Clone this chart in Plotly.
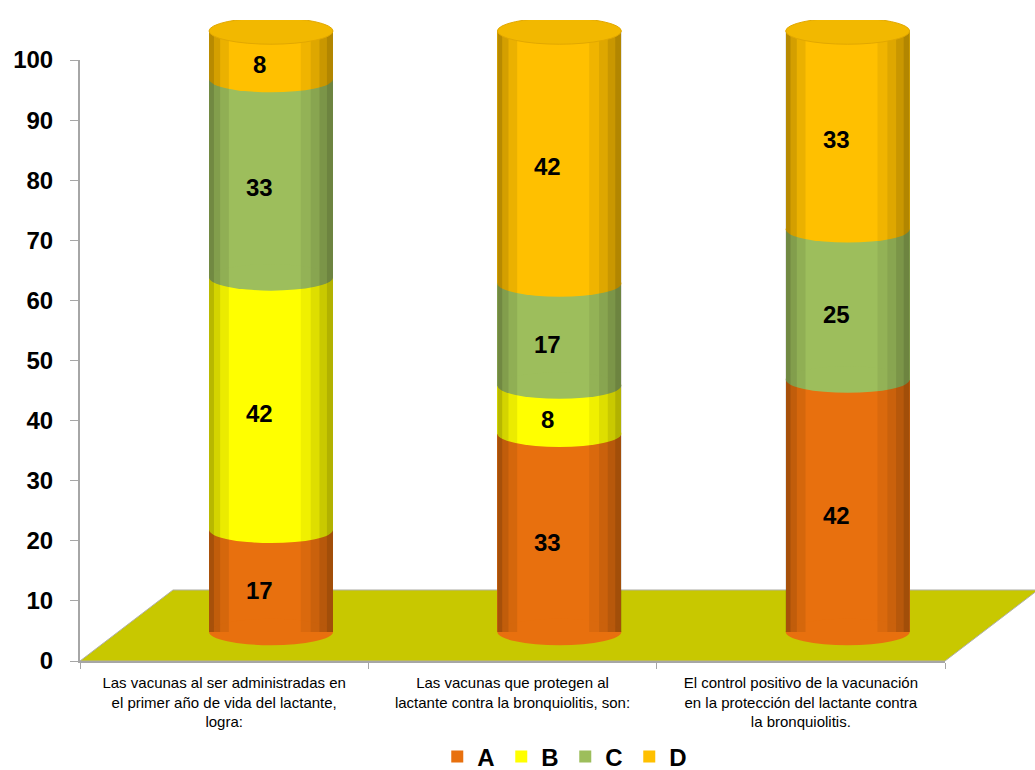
import plotly.graph_objects as go

# ---- data ----
categories = [
    "Las vacunas al ser administradas en<br>el primer año de vida del lactante,<br>logra:",
    "Las vacunas que protegen al<br>lactante contra la bronquiolitis, son:",
    "El control positivo de la vacunación<br>en la protección del lactante contra<br>la bronquiolitis.",
]
series_names = ["A", "B", "C", "D"]
values_A = [17, 33, 42]
values_B = [42, 8, 0]
values_C = [33, 17, 25]
values_D = [8, 42, 33]
y_ticks = [0, 10, 20, 30, 40, 50, 60, 70, 80, 90, 100]

# ---- style ----
colors = ["#E8700E", "#FFFF00", "#9DBE5C", "#FFC000"]
cap_color = "#F2B800"
FONT = "Liberation Sans, Arial, sans-serif"
BAR_W = 0.43
ELL_H = 2.2  # half-height of cylinder ellipses in data units

series_values = [values_A, values_B, values_C, values_D]
idx = list(range(len(categories)))

fig = go.Figure()

# invisible trace to anchor the primary axes
fig.add_trace(go.Scatter(x=idx, y=[0] * len(idx), mode="markers",
                         marker=dict(opacity=0), showlegend=False,
                         hoverinfo="skip", xaxis="x", yaxis="y"))

for name, vals, col in zip(series_names, series_values, colors):
    fig.add_trace(go.Bar(
        x=idx, y=vals, name=name, width=BAR_W,
        marker=dict(color=col, line=dict(width=0)),
        xaxis="x2", yaxis="y2", hoverinfo="name+y",
    ))

shapes = []
# floor (perspective plane)
shapes.append(dict(
    type="path", xref="paper", yref="paper", layer="below",
    path="M 0,0 L 1,0 L 1.1075,0.1108 L 0.1075,0.1108 Z",
    fillcolor="#C8C800", line=dict(color="#B0B0A8", width=1),
))

shade = [(0.00, 0.04, 0.28), (0.04, 0.09, 0.17), (0.09, 0.16, 0.08),
         (0.74, 0.82, 0.06), (0.82, 0.89, 0.13), (0.89, 0.95, 0.21),
         (0.95, 1.00, 0.30)]

annotations = []
for i in idx:
    x0, x1 = i - BAR_W / 2, i + BAR_W / 2
    # bottom rounded edge
    shapes.append(dict(type="circle", xref="x2", yref="y2", layer="above",
                       x0=x0, x1=x1, y0=-ELL_H, y1=ELL_H,
                       fillcolor=colors[0], line=dict(width=0)))
    cum = 0
    for j, vals in enumerate(series_values):
        v = vals[i]
        if v <= 0:
            continue
        if cum > 0:
            shapes.append(dict(type="circle", xref="x2", yref="y2", layer="above",
                               x0=x0, x1=x1, y0=cum - ELL_H, y1=cum + ELL_H,
                               fillcolor=colors[j], line=dict(width=0)))
        annotations.append(dict(
            x=i - 0.04, y=cum + v / 2 - 1.6, xref="x2", yref="y2", text=str(v),
            showarrow=False, font=dict(family=FONT, size=24, color="#000000",
                                       weight="bold")))
        cum += v
    # cylinder shading strips
    w = BAR_W
    for a, b, op in shade:
        shapes.append(dict(type="rect", xref="x2", yref="y2", layer="above",
                           x0=x0 + a * w, x1=x0 + b * w, y0=0, y1=cum,
                           fillcolor="black", opacity=op, line=dict(width=0)))
    # top cap
    shapes.append(dict(type="circle", xref="x2", yref="y2", layer="above",
                       x0=x0, x1=x1, y0=cum - ELL_H, y1=cum + ELL_H,
                       fillcolor=cap_color, line=dict(color="#E2A800", width=1)))

PLOT_H = 770 - 20 - 109
y_top = 601 / PLOT_H
zero_px = 29
px_per = 6.01

fig.update_layout(
    width=1035, height=770,
    margin=dict(l=80, r=90, t=20, b=109, autoexpand=False),
    paper_bgcolor="white", plot_bgcolor="rgba(0,0,0,0)",
    barmode="stack", bargap=0,
    font=dict(family=FONT, color="#000000"),
    shapes=shapes, annotations=annotations,
    showlegend=True,
    legend=dict(orientation="h", x=0.561, xanchor="center", y=-96 / PLOT_H,
                yanchor="middle", traceorder="normal",
                font=dict(family=FONT, size=24, weight="bold"),
                itemwidth=30, entrywidth=19),
    xaxis=dict(domain=[0, 1], range=[-0.5, 2.5], tickvals=idx, ticktext=categories,
               ticks="", showgrid=False, zeroline=False, anchor="y",
               showline=True, linecolor="#A6A6A6", linewidth=2,
               tickfont=dict(family=FONT, size=15, color="#000000"),
               minor=dict(tick0=-0.5, dtick=1, ticks="outside", ticklen=6,
                          tickcolor="#A6A6A6", tickwidth=1, showgrid=False),
               ticklabelstandoff=7),
    yaxis=dict(domain=[0, y_top], range=[0, 100], tickvals=y_ticks,
               ticks="outside", ticklen=8, anchor="x",
               tickcolor="#A6A6A6", tickwidth=1, showgrid=False, zeroline=False,
               showline=True, linecolor="#A6A6A6", linewidth=2,
               tickfont=dict(family=FONT, size=24, weight="bold", color="#000000"),
               ticklabelstandoff=12),
    xaxis2=dict(domain=[0, 1], range=[-0.6625, 2.3375], visible=False,
                anchor="y2"),
    yaxis2=dict(domain=[0, 1],
                range=[-zero_px / px_per, (PLOT_H - zero_px) / px_per],
                visible=False, anchor="x2"),
)

fig.write_html("out.html")
